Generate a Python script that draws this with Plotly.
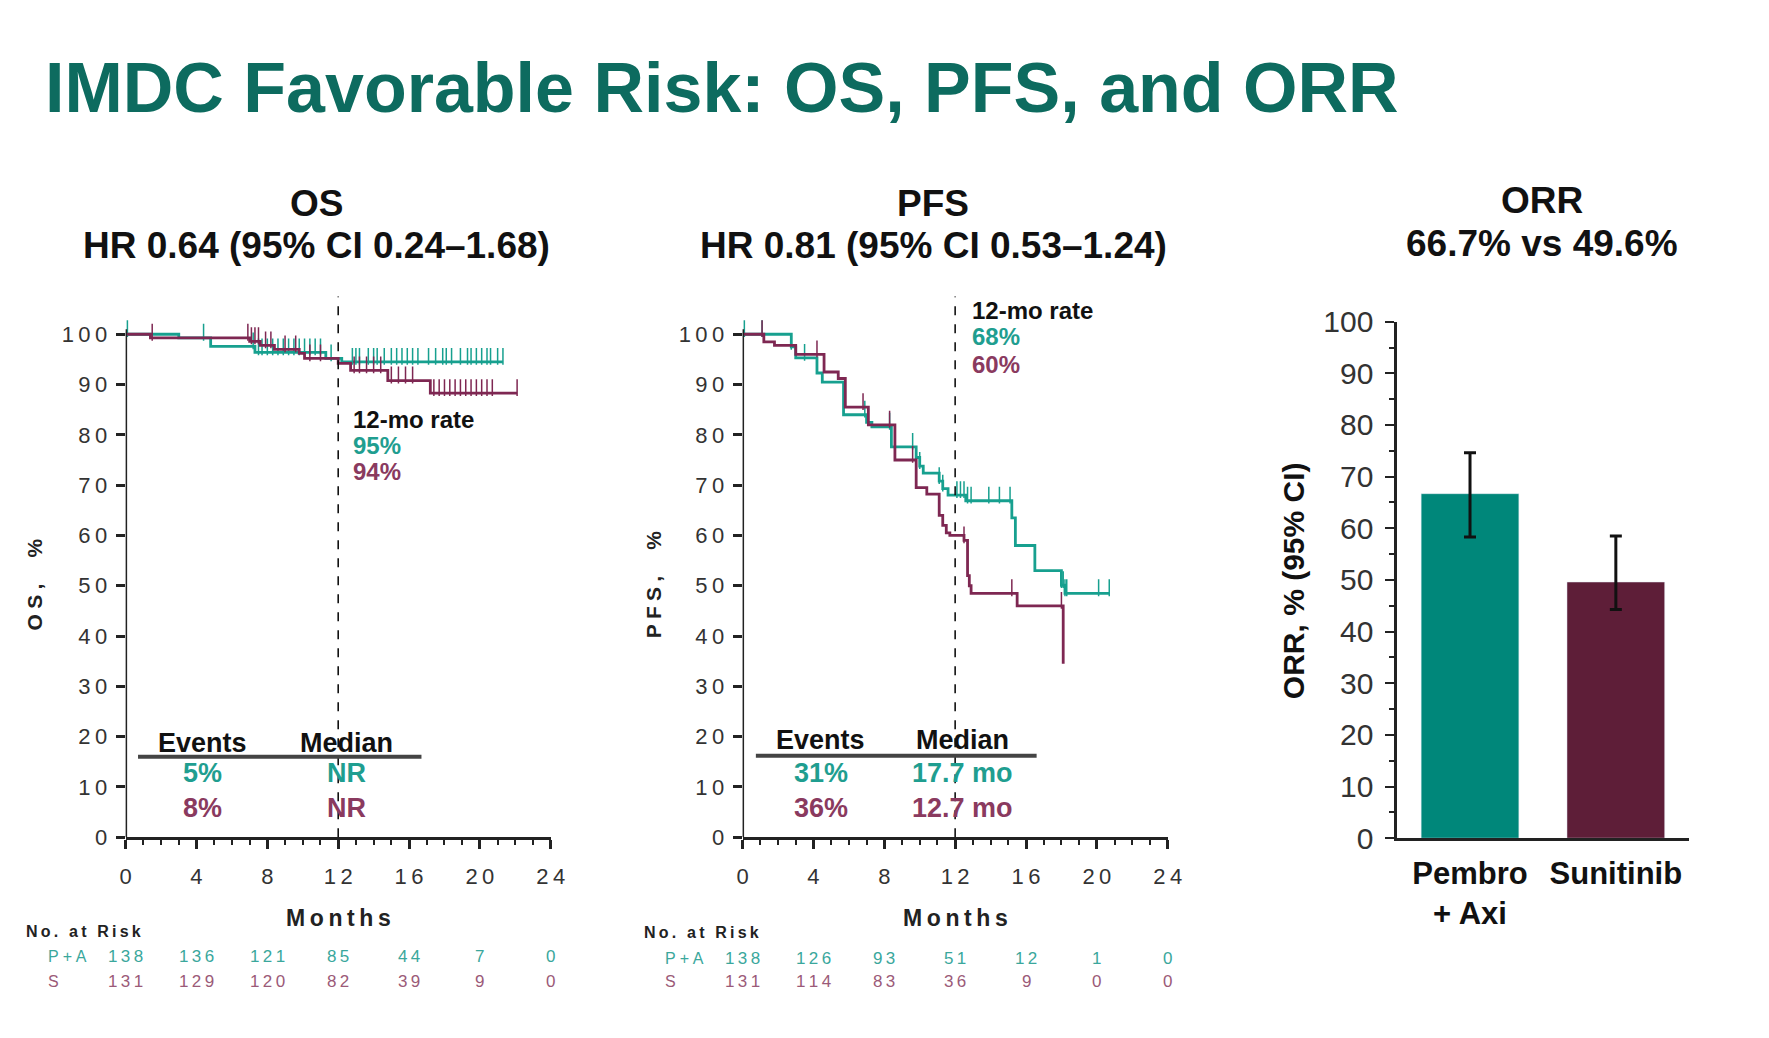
import plotly.graph_objects as go

W, H = 1769, 1038

# ---------------- data ----------------
month_ticks = [0, 4, 8, 12, 16, 20, 24]
pct_ticks = list(range(0, 101, 10))

# OS Kaplan-Meier (step points)
os_pa_t = [0, 3.0, 4.8, 7.3, 11.3, 12.2, 21.3]
os_pa_s = [100, 99.3, 97.6, 96.4, 95.2, 94.5, 94.5]
os_pa_cens = [0.1, 4.4, 7.2, 7.5, 7.7, 8.0, 8.3, 8.6, 8.9, 9.2, 9.5, 9.8, 10.1, 10.4, 10.7,
              11.0, 11.6, 12.8, 13.0, 13.2, 13.7, 14.0, 14.2, 14.6, 15.0, 15.3, 15.6, 15.9,
              16.2, 16.5, 17.1, 17.5, 17.9, 18.1, 18.4, 18.9, 19.3, 19.5, 19.8, 20.1, 20.4,
              20.6, 21.0, 21.3]
os_s_t = [0, 1.4, 7.0, 7.6, 8.4, 9.8, 10.1, 12.0, 12.7, 14.8, 17.2, 22.1]
os_s_s = [100, 99.3, 98.6, 97.8, 97.0, 96.2, 95.2, 94.2, 92.8, 90.8, 88.3, 88.3]
os_s_cens = [1.5, 6.9, 7.1, 7.3, 7.5, 7.9, 8.2, 9.0, 9.6, 10.4, 11.0, 12.9, 13.2, 13.6,
             14.0, 14.4, 15.0, 15.4, 15.8, 16.2, 17.4, 17.7, 18.0, 18.3, 18.6, 18.9, 19.2,
             19.5, 19.8, 20.1, 20.4, 20.7, 22.1]

# PFS Kaplan-Meier (step points)
pfs_pa_t = [0, 2.75, 3.0, 4.2, 4.5, 5.7, 7.0, 7.3, 8.4, 9.8, 10.0, 10.2, 11.1, 11.3, 11.6,
            12.6, 15.2, 15.4, 16.5, 18.0, 18.2, 20.7]
pfs_pa_s = [100, 97.5, 95.3, 92.3, 90.5, 84.0, 82.5, 81.6, 77.6, 75.5, 73.8, 72.4, 70.8,
            69.3, 68.0, 66.9, 63.5, 58.0, 53.0, 50.1, 48.5, 48.5]
pfs_pa_cens = [0.1, 1.1, 2.75, 3.5, 6.9, 7.1, 8.3, 9.6, 10.0, 11.1, 11.3, 12.1, 12.3, 12.5,
               12.7, 12.9, 13.9, 14.5, 15.1, 18.0, 18.1, 18.2, 18.3, 20.1, 20.7]
pfs_s_t = [0, 1.2, 1.8, 3.0, 4.6, 5.4, 5.8, 7.1, 8.6, 9.8, 10.4, 11.1, 11.3, 11.5, 11.7,
           12.5, 12.7, 12.8, 12.9, 15.5, 18.1]
pfs_s_s = [100, 98.5, 97.8, 96.0, 92.5, 91.2, 85.5, 82.0, 75.0, 69.5, 68.2, 64.0, 62.0,
           60.5, 60.0, 59.0, 52.0, 50.0, 48.5, 46.0, 34.5]
pfs_s_cens = [1.1, 4.2, 6.8, 8.3, 9.6, 12.5, 15.2, 18.0]

# Numbers at risk
risk_rows = ["P + A", "S"]
os_risk_pa = [138, 136, 121, 85, 44, 7, 0]
os_risk_s = [131, 129, 120, 82, 39, 9, 0]
pfs_risk_pa = [138, 126, 93, 51, 12, 1, 0]
pfs_risk_s = [131, 114, 83, 36, 9, 0, 0]

# Summary tables
os_events = ["5%", "8%"]
os_median = ["NR", "NR"]
pfs_events = ["31%", "36%"]
pfs_median = ["17.7 mo", "12.7 mo"]
os_12mo = ["95%", "94%"]
pfs_12mo = ["68%", "60%"]

# ORR
orr_groups = ["Pembro<br>+ Axi", "Sunitinib"]
orr_vals = [66.7, 49.6]
orr_lo = [58.3, 44.3]
orr_hi = [74.6, 58.5]
orr_ticks = list(range(0, 101, 10))

# ---------------- styles ----------------
TEAL_LINE = "#17a08f"
MAROON_LINE = "#7e2752"
TEAL_TXT = "#1f9e90"
MAROON_TXT = "#8a3a5f"
TEAL_BAR = "#00877a"
MAROON_BAR = "#5e1e38"
TITLE_C = "#0d6b5f"
FONT = "Liberation Sans, Arial, sans-serif"
AX = "#222222"


def spaced(s, sep="\u2009"):
    return sep.join(list(str(s)))


def step_val(ts, ss, t):
    v = ss[0]
    for ti, si in zip(ts, ss):
        if ti <= t:
            v = si
    return v


def px(x):
    return x / W


def py(y):
    return 1 - y / H


fig = go.Figure()

panels = [
    dict(xa="x", ya="y", curves=[(os_pa_t, os_pa_s, os_pa_cens, TEAL_LINE),
                                 (os_s_t, os_s_s, os_s_cens, MAROON_LINE)]),
    dict(xa="x2", ya="y2", curves=[(pfs_pa_t, pfs_pa_s, pfs_pa_cens, TEAL_LINE),
                                   (pfs_s_t, pfs_s_s, pfs_s_cens, MAROON_LINE)]),
]

for p in panels:
    for ts, ss, cens, col in p["curves"]:
        fig.add_trace(go.Scatter(x=ts, y=ss, mode="lines", line=dict(color=col, width=2.8, shape="hv"),
                                 xaxis=p["xa"], yaxis=p["ya"], showlegend=False, hoverinfo="skip"))
        fig.add_trace(go.Scatter(x=cens, y=[step_val(ts, ss, t) + 1.1 for t in cens], mode="markers",
                                 marker=dict(symbol="line-ns", size=12, line=dict(width=1.5, color=col)),
                                 xaxis=p["xa"], yaxis=p["ya"], showlegend=False, hoverinfo="skip"))

# ORR bars
fig.add_trace(go.Bar(x=orr_groups, y=orr_vals, marker=dict(color=[TEAL_BAR, MAROON_BAR]),
                     width=0.67, xaxis="x3", yaxis="y3", showlegend=False,
                     error_y=dict(type="data", symmetric=False,
                                  array=[h - v for h, v in zip(orr_hi, orr_vals)],
                                  arrayminus=[v - l for v, l in zip(orr_vals, orr_lo)],
                                  color="#111111", thickness=3, width=6)))

km_x = dict(range=[0, 24], tickvals=month_ticks, ticktext=[spaced(m) for m in month_ticks],
            showline=True, linewidth=3, linecolor=AX, ticks="outside", ticklen=9, tickwidth=2.5,
            tickcolor=AX, minor=dict(dtick=1, ticks="outside", ticklen=5, tickwidth=2, tickcolor=AX),
            showgrid=False, zeroline=False, tickfont=dict(family=FONT, size=22, color="#333"),
            ticklabelstandoff=8, fixedrange=True)
km_y = dict(range=[0, 108], tickvals=pct_ticks, ticktext=[spaced(v) for v in pct_ticks],
            showline=False, ticks="outside", ticklen=9, tickwidth=2.5, tickcolor=AX,
            showgrid=False, zeroline=False, tickfont=dict(family=FONT, size=22, color="#333"),
            ticklabelstandoff=4, fixedrange=True)

ydom = [py(848), py(848 - 108 * 5.2)]

fig.update_layout(
    width=W, height=H, margin=dict(l=0, r=0, t=0, b=0),
    paper_bgcolor="white", plot_bgcolor="rgba(0,0,0,0)",
    xaxis=dict(domain=[px(121), px(551)], anchor="y", **km_x),
    yaxis=dict(domain=ydom, anchor="x", **km_y),
    xaxis2=dict(domain=[px(745), px(1175)], anchor="y2", **km_x),
    yaxis2=dict(domain=ydom, anchor="x2", **km_y),
    xaxis3=dict(domain=[px(1407), px(1702)], anchor="y3", type="category", range=[-0.5, 1.5],
                showline=True, linewidth=2.5, linecolor=AX, ticks="", showgrid=False,
                tickfont=dict(family=FONT, size=31, color="#111", weight="bold"),
                ticklabelstandoff=6, fixedrange=True),
    yaxis3=dict(domain=[py(849), py(315)], anchor="x3", range=[0, 100], tickvals=orr_ticks,
                showline=True, linewidth=2.5, linecolor=AX, ticks="outside", ticklen=9, tickwidth=2,
                tickcolor=AX, minor=dict(dtick=5, ticks="outside", ticklen=5, tickwidth=1.5, tickcolor=AX),
                showgrid=False, zeroline=False, tickfont=dict(family=FONT, size=30, color="#333"),
                ticklabelstandoff=6, fixedrange=True),
    font=dict(family=FONT),
)

shapes = []
for xa, ya in [("x", "y"), ("x2", "y2")]:
    # y axis line
    shapes.append(dict(type="line", xref=xa, yref=ya, x0=0, x1=0, y0=0, y1=101,
                       line=dict(color=AX, width=3)))
    # 12-month dashed line
    shapes.append(dict(type="line", xref=xa, yref=ya, x0=12, x1=12, y0=0, y1=107.5,
                       line=dict(color="#111", width=1.6, dash="dash")))
# table underline
shapes.append(dict(type="line", xref="x", yref="y", x0=0.7, x1=16.7, y0=16.0, y1=16.0,
                   line=dict(color="#444", width=4)))
shapes.append(dict(type="line", xref="x2", yref="y2", x0=0.75, x1=16.6, y0=16.2, y1=16.2,
                   line=dict(color="#444", width=4)))
fig.update_layout(shapes=shapes)

ann = []


def A(text, x, y, size, color="#111", bold=True, xref="paper", yref="paper", xanchor="center",
      yanchor="middle", angle=0):
    ann.append(dict(text=text, x=x, y=y, xref=xref, yref=yref, xanchor=xanchor, yanchor=yanchor,
                    showarrow=False, textangle=angle,
                    font=dict(family=FONT, size=size, color=color, weight="bold" if bold else "normal")))


# Title
A("IMDC Favorable Risk: OS, PFS, and ORR", px(37), py(73), 70, TITLE_C, xanchor="left")
# Panel titles
A("OS", px(314), py(193), 37)
A("HR 0.64 (95% CI 0.24\u20131.68)", px(314), py(236), 37)
A("PFS", px(938), py(193), 37)
A("HR 0.81 (95% CI 0.53\u20131.24)", px(938), py(236), 37)
A("ORR", px(1554), py(190), 37)
A("66.7% vs 49.6%", px(1554), py(234), 37)

# Y axis titles
A("O\u2005S\u2005,\u2003\u2005%", px(29), py(587), 21, "#222", angle=-90)
A("P\u2005F\u2005S\u2005,\u2003\u2005%", px(655), py(587), 21, "#222", angle=-90)
A("ORR, % (95% CI)", px(1303), py(583), 30, "#111", angle=-90)

# Months labels
A(spaced("Months"), 12, py(931), 23, "#222", xref="x")
A(spaced("Months"), 12, py(932), 23, "#222", xref="x2")

# 12-mo rate
for xa, ya, vals, x0, ys in [("x", "y", os_12mo, 12.75, [83.1, 77.9, 72.7]),
                             ("x2", "y2", pfs_12mo, 12.85, [104.8, 99.6, 94.0])]:
    A("12-mo rate", x0, ys[0], 24, "#111", xref=xa, yref=ya, xanchor="left")
    A(vals[0], x0, ys[1], 24, TEAL_TXT, xref=xa, yref=ya, xanchor="left")
    A(vals[1], x0, ys[2], 24, MAROON_TXT, xref=xa, yref=ya, xanchor="left")

# Events / Median tables
for xa, ya, ev, md, xe, xm, yh in [("x", "y", os_events, os_median, 4.35, 12.45, 18.8),
                                   ("x2", "y2", pfs_events, pfs_median, 4.4, 12.4, 19.3)]:
    A("Events", xe, yh, 27, "#111", xref=xa, yref=ya)
    A("Median", xm, yh, 27, "#111", xref=xa, yref=ya)
    A(ev[0], xe, 12.8, 27, TEAL_TXT, xref=xa, yref=ya)
    A(md[0], xm, 12.8, 27, TEAL_TXT, xref=xa, yref=ya)
    A(ev[1], xe, 5.8, 27, MAROON_TXT, xref=xa, yref=ya)
    A(md[1], xm, 5.8, 27, MAROON_TXT, xref=xa, yref=ya)

# Numbers at risk
RISK_TEAL = "#3aa79c"
RISK_MAR = "#9b5a78"
for xa, lx, rows, yo in [("x", 18, (os_risk_pa, os_risk_s), 0),
                         ("x2", 643, (pfs_risk_pa, pfs_risk_s), 2)]:
    A(spaced("No. at Risk"), px(lx), py(945 + yo), 16, "#222", xanchor="left")
    A(risk_rows[0], px(lx + 22), py(971 + yo), 16, RISK_TEAL, bold=False, xanchor="left")
    A(risk_rows[1], px(lx + 22), py(997), 16, RISK_MAR, bold=False, xanchor="left")
    for m, v1, v2 in zip(month_ticks, rows[0], rows[1]):
        A(spaced(v1), m, py(971 + yo), 17, RISK_TEAL, bold=False, xref=xa)
        A(spaced(v2), m, py(997), 17, RISK_MAR, bold=False, xref=xa)

fig.update_layout(annotations=ann)
fig.write_html("out.html")
